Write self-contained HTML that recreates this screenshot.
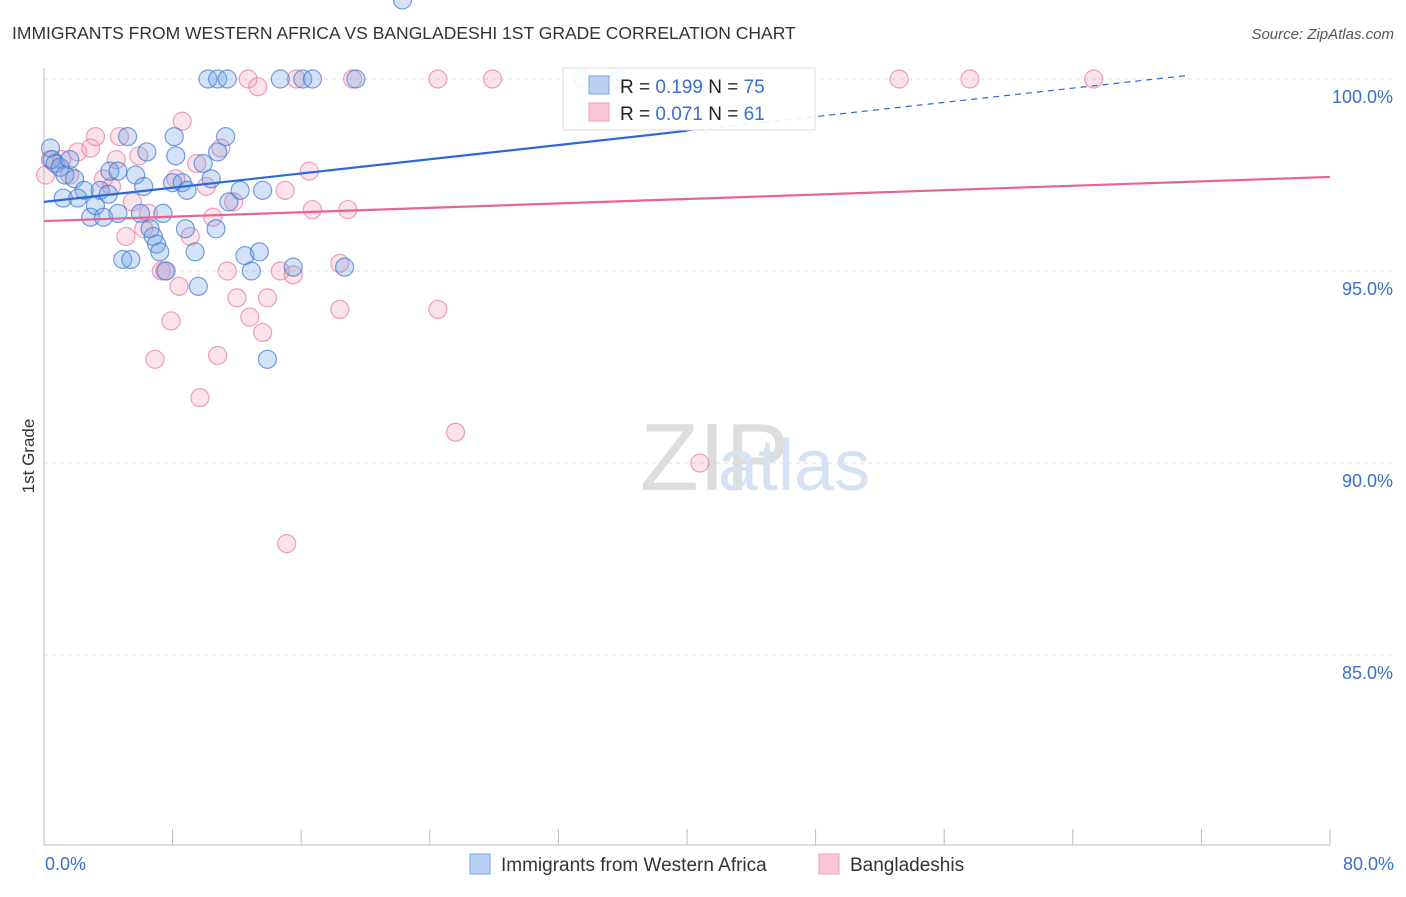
<!DOCTYPE html>
<html><head><meta charset="utf-8"><style>
body{margin:0;background:#fff;font-family:"Liberation Sans",sans-serif}
svg text{font-family:"Liberation Sans",sans-serif}
</style></head><body>
<svg id="c" width="1406" height="892" xmlns="http://www.w3.org/2000/svg">
<text x="12" y="39" font-size="17.5" fill="#333">IMMIGRANTS FROM WESTERN AFRICA VS BANGLADESHI 1ST GRADE CORRELATION CHART</text>
<text x="1394" y="39" font-size="15" fill="#555" text-anchor="end" font-style="italic">Source: ZipAtlas.com</text>
<text x="34" y="456" font-size="17" fill="#333" text-anchor="middle" transform="rotate(-90 34 456)">1st Grade</text>
<g id="grid"></g>
<g id="ticks"></g>
<line x1="44" y1="68" x2="44" y2="845" stroke="#bbb"/>
<line x1="44" y1="845" x2="1330" y2="845" stroke="#bbb"/>
<text x="640" y="490" font-size="96" fill="#ddd" font-family="Liberation Serif">ZIP</text>
<text x="718" y="490" font-size="72" fill="#d4e2f4">atlas</text>
<g id="pts"></g>
<g id="trend"></g>
<g>
<rect x="563" y="68" width="252" height="62" fill="#fff" fill-opacity="0.9" stroke="#ddd"/>
<rect x="589" y="76" width="20" height="18" fill="#b8d0f4" stroke="#7aa6e6"/>
<rect x="589" y="103" width="20" height="18" fill="#f9c6d4" stroke="#efa0b8"/>
<text x="620" y="93" font-size="19" fill="#222">R = <tspan fill="#3a6fd0">0.199</tspan>   N = <tspan fill="#3a6fd0">75</tspan></text>
<text x="620" y="120" font-size="19" fill="#222">R = <tspan fill="#3a6fd0">0.071</tspan>   N = <tspan fill="#3a6fd0"> 61</tspan></text>
</g>
<g id="ylabels"></g>
<text x="45" y="870" font-size="18" fill="#3a6fd0">0.0%</text>
<text x="1394" y="870" font-size="18" fill="#3a6fd0" text-anchor="end">80.0%</text>
<g><rect x="470" y="854" width="20" height="20" fill="#b8d0f4" stroke="#7aa6e6"/><text x="501" y="871" font-size="19" fill="#333">Immigrants from Western Africa</text></g>
<g><rect x="819" y="854" width="20" height="20" fill="#f9c6d4" stroke="#efa0b8"/><text x="850" y="871" font-size="19" fill="#333">Bangladeshis</text></g>
</svg>
<script>
const yTicks=[100,95,90,85];
const xTickVals=[0,8,16,24,32,40,48,56,64,72,80];
const blueX=[10.2,10.8,11.4,14.7,16.1,16.7,19.4,33.5,35.8,0.4,0.5,0.7,1.0,1.6,1.3,1.9,2.5,1.2,2.1,2.9,3.2,3.5,3.7,4.0,4.1,4.6,4.6,4.9,5.2,5.4,5.7,6.0,6.2,6.4,6.6,6.8,7.0,7.2,7.4,7.6,8.0,8.1,8.2,8.6,8.8,8.9,9.4,9.6,9.9,10.4,10.7,10.8,11.3,11.5,12.2,12.5,12.9,13.4,13.6,13.9,15.5,18.7,22.3];
const blueY=[100,100,100,100,100,100,100,100,100,98.2,97.9,97.8,97.7,97.9,97.5,97.4,97.1,96.9,96.9,96.4,96.7,97.1,96.4,97.0,97.6,97.6,96.5,95.3,98.5,95.3,97.5,96.5,97.2,98.1,96.1,95.9,95.7,95.5,96.5,95.0,97.3,98.5,98.0,97.3,96.1,97.1,95.5,94.6,97.8,97.4,96.1,98.1,98.5,96.8,97.1,95.4,95.0,95.5,97.1,92.7,95.1,95.1];
const pinkX=[12.7,13.3,15.7,19.2,24.5,27.9,53.2,57.6,65.3,0.1,0.4,1.1,1.6,2.1,2.9,3.2,3.7,4.2,4.5,4.7,5.1,5.5,5.9,6.2,6.5,6.9,7.3,7.5,7.9,8.2,8.4,8.6,9.1,9.5,9.7,10.1,10.5,10.8,11.0,11.4,11.8,12.0,12.8,13.6,13.9,14.7,15.0,15.1,15.5,16.5,16.7,18.4,18.4,18.9,24.5,25.6,40.8];
const pinkY=[100,99.8,100,100,100,100,100,100,100,97.5,97.9,97.9,97.5,98.1,98.2,98.5,97.4,97.2,97.9,98.5,95.9,96.8,98.0,96.1,96.5,92.7,95.0,95.0,93.7,97.4,94.6,98.9,95.9,97.8,91.7,97.2,96.4,92.8,98.2,95.0,96.8,94.3,93.8,93.4,94.3,95.0,97.1,87.9,94.9,97.6,96.6,95.2,94.0,96.6,94.0,90.8,90.0];
const blueTrend=[[0,96.8],[40,98.65]], blueDash=[[40,98.65],[71.3,100.1]];
const pinkTrend=[[0,96.3],[80,97.45]];
const X=v=>44+v/80*1286, Y=v=>79+(100-v)/5*192;
const NS="http://www.w3.org/2000/svg";
function mk(t,a,p){const e=document.createElementNS(NS,t);for(const k in a)e.setAttribute(k,a[k]);p.appendChild(e);return e;}
const g=document.getElementById('grid'),yl=document.getElementById('ylabels');
yTicks.forEach(v=>{
const l=mk('line',{x1:44,x2:1394,y1:Y(v),y2:Y(v),stroke:'#ddd','stroke-dasharray':'4 4'},g);


const t=mk('text',{x:1393,y:Y(v)+24,'font-size':18,fill:'#3a6fd0','text-anchor':'end'},yl);
t.textContent=v.toFixed(1)+'%';


});
const tk=document.getElementById('ticks');
xTickVals.forEach(v=>{
const l=mk('line',{x1:X(v),x2:X(v),y1:829,y2:845,stroke:'#bbb'},tk);


});
const pg=document.getElementById('pts');
function pts(xs,ys,fill,stroke,name){xs.forEach((x,i)=>{
const c=mk('circle',{cx:X(x),cy:Y(ys[i]),r:9,fill:fill,stroke:stroke,'stroke-width':1.2},pg);


});}
pts(pinkX,pinkY,'rgba(244,160,188,0.3)','rgba(232,120,158,0.7)','bangladeshi-point');
pts(blueX,blueY,'rgba(110,160,230,0.3)','rgba(60,120,210,0.7)','immigrant-point');
const tg=document.getElementById('trend');
function ln(s,col,dash,name){const l=mk('line',{x1:X(s[0][0]),y1:Y(s[0][1]),x2:X(s[1][0]),y2:Y(s[1][1]),stroke:col,'stroke-width':dash?1.2:2.2},tg);
if(dash)l.setAttribute('stroke-dasharray','6 5');

}
ln(pinkTrend,'#e8648e',false,'bangladeshi-trend');
ln(blueTrend,'#2a6ad6',false,'immigrant-trend');
ln(blueDash,'#2a6ad6',true,'immigrant-trend-extension');
</script>
</body></html>
